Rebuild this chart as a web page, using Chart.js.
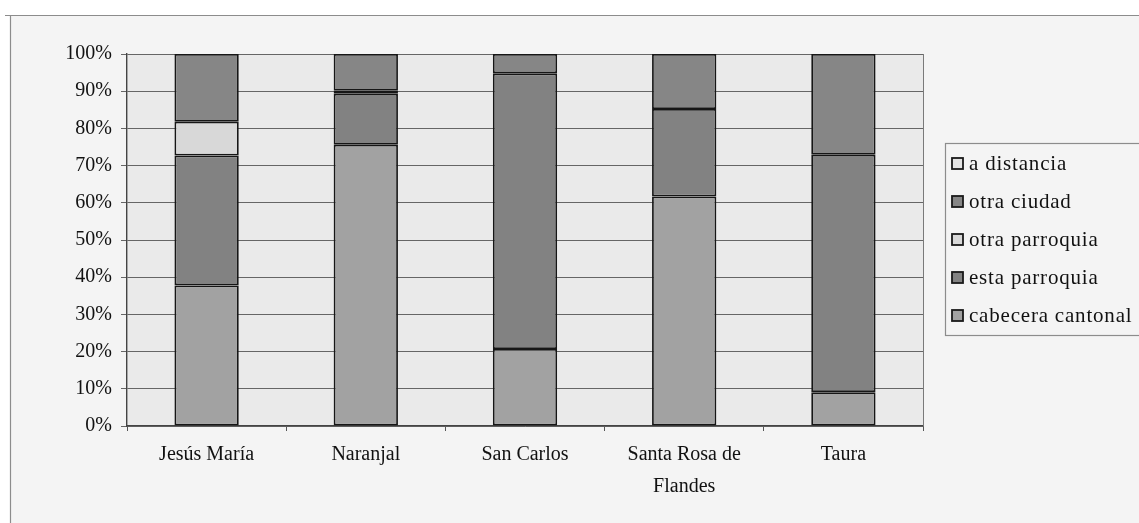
<!DOCTYPE html>
<html>
<head>
<meta charset="utf-8">
<script src="https://cdn.jsdelivr.net/npm/chart.js@4.4.1/dist/chart.umd.min.js"></script>
<style>
  html, body { margin: 0; padding: 0; background: #ffffff; }
  #wrap { position: relative; width: 1139px; height: 523px; }
  canvas { display: block; }
</style>
</head>
<body>
<div id="wrap"><canvas id="c" width="1139" height="523"></canvas></div>
<script>
// ---- data (percent of respondents per parish) ----
const categories = ['Jesús María', 'Naranjal', 'San Carlos', ['Santa Rosa de', 'Flandes'], 'Taura'];
const cabeceraCantonal = [37.8, 75.6, 20.7, 61.7, 9.1];
const estaParroquia    = [34.9, 13.7, 74.1, 23.5, 63.8];
const otraParroquia    = [9.1, 0.8, 0, 0, 0];
const otraCiudad       = [18.2, 9.9, 5.2, 14.8, 27.1];
const aDistancia       = [0, 0, 0, 0, 0];
const yTicks = [0, 10, 20, 30, 40, 50, 60, 70, 80, 90, 100];

const FONT = "'Liberation Serif', 'DejaVu Serif', serif";

const seriesDefs = [
  { label: 'cabecera cantonal', data: cabeceraCantonal, color: '#a2a2a2' },
  { label: 'esta parroquia',    data: estaParroquia,    color: '#828282' },
  { label: 'otra parroquia',    data: otraParroquia,    color: '#d8d8d8' },
  { label: 'otra ciudad',       data: otraCiudad,       color: '#868686' },
  { label: 'a distancia',       data: aDistancia,       color: '#e4e4e4' }
];

const bgPlugin = {
  id: 'bg',
  beforeDraw(chart) {
    const ctx = chart.ctx, a = chart.chartArea;
    ctx.save();
    ctx.fillStyle = '#ffffff';
    ctx.fillRect(0, 0, chart.width, chart.height);
    ctx.fillStyle = '#f4f4f4';
    ctx.fillRect(10, 15, chart.width - 10, chart.height - 15);
    ctx.fillStyle = '#eaeaea';
    ctx.fillRect(a.left, a.top, a.right - a.left, a.bottom - a.top);
    // outer frame
    ctx.strokeStyle = '#8c8c8c';
    ctx.lineWidth = 1.2;
    ctx.beginPath();
    ctx.moveTo(5, 15.5); ctx.lineTo(chart.width, 15.5);
    ctx.moveTo(10.5, 15); ctx.lineTo(10.5, chart.height);
    ctx.stroke();
    ctx.restore();
  },
  afterDatasetsDraw(chart) {
    const ctx = chart.ctx, a = chart.chartArea;
    ctx.save();
    ctx.strokeStyle = '#7a7a7a';
    ctx.lineWidth = 1;
    ctx.beginPath();
    ctx.moveTo(Math.round(a.right) + 0.5, a.top);
    ctx.lineTo(Math.round(a.right) + 0.5, a.bottom);
    ctx.stroke();
    ctx.restore();
  },
  afterDraw(chart) {
    // legend box (reverse order of stacking, like the original)
    const ctx = chart.ctx;
    ctx.save();
    ctx.strokeStyle = '#8c8c8c';
    ctx.lineWidth = 1.2;
    ctx.strokeRect(945.5, 143.5, 210, 192);
    const ds = chart.data.datasets.slice().reverse();
    ctx.font = '21px ' + FONT;
    if ('letterSpacing' in ctx) ctx.letterSpacing = '0.8px';
    ctx.textBaseline = 'middle';
    ctx.textAlign = 'left';
    ds.forEach((d, i) => {
      const y = 164 + i * 38;
      ctx.fillStyle = d.backgroundColor;
      ctx.fillRect(952, y - 6, 11, 11);
      ctx.strokeStyle = '#1a1a1a';
      ctx.lineWidth = 1.8;
      ctx.strokeRect(952, y - 6, 11, 11);
      ctx.fillStyle = '#111111';
      ctx.fillText(d.label, 969, y);
    });
    ctx.restore();
  }
};

new Chart(document.getElementById('c'), {
  type: 'bar',
  data: {
    labels: categories,
    datasets: seriesDefs.map(s => ({
      label: s.label,
      data: s.data,
      backgroundColor: s.color,
      borderColor: '#161616',
      borderWidth: 1.8,
      borderSkipped: false,
      barPercentage: 0.8,
      categoryPercentage: 0.505
    }))
  },
  options: {
    responsive: false,
    animation: false,
    layout: { padding: { left: 0, top: 54, right: 216, bottom: 0 } },
    plugins: { legend: { display: false }, tooltip: { enabled: false } },
    scales: {
      x: {
        stacked: true,
        offset: true,
        grid: { offset: true, drawOnChartArea: false, drawTicks: true, tickLength: 5, color: '#555555' },
        border: { display: true, color: '#444444', width: 1.2 },
        ticks: {
          color: '#111111',
          font: { family: FONT, size: 20, lineHeight: 1.6 },
          maxRotation: 0, minRotation: 0, padding: 8, autoSkip: false
        },
        afterFit(scale) { scale.height = 97; }
      },
      y: {
        stacked: true,
        min: 0, max: 100,
        afterBuildTicks(scale) { scale.ticks = yTicks.map(v => ({ value: v })); },
        grid: { color: '#666666', lineWidth: 1, tickLength: 6, drawTicks: true },
        border: { display: true, color: '#444444', width: 1.4 },
        ticks: {
          color: '#111111',
          font: { family: FONT, size: 20 },
          padding: 9,
          callback: v => v + '%'
        },
        afterFit(scale) { scale.width = 127; }
      }
    }
  },
  plugins: [bgPlugin]
});
</script>
</body>
</html>
